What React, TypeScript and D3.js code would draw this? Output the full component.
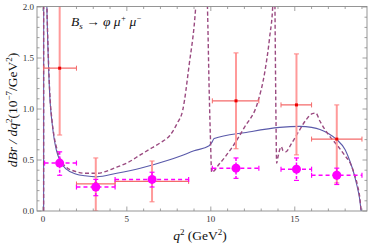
import React from "react";
import * as d3 from "d3";

// ---- data ----
const xTicksMajor = [0, 5, 10, 15];
const yTicksMajor = [0, 0.5, 1.0, 1.5, 2.0];

// SM-like prediction (solid)
const solidCurve: [number, number][] = [
  [0.045, 0], [0.05, 3.0], [0.2, 2.35], [0.25, 1.9], [0.3, 1.6], [0.42, 1.1], [0.55, 0.86],
  [0.67, 0.71], [0.8, 0.6], [1.0, 0.5], [1.4, 0.41], [2.0, 0.36], [2.5, 0.345], [3.2, 0.335],
  [4.4, 0.37], [5.8, 0.42], [7.5, 0.5], [8.2, 0.54], [9.0, 0.59], [9.9, 0.64], [10.05, 0.67],
  [10.2, 0.71], [12.1, 0.77], [14.1, 0.82], [15.3, 0.83], [16.0, 0.82], [16.5, 0.8],
  [17.0, 0.76], [17.5, 0.7], [18.0, 0.6], [18.3, 0.48], [18.5, 0.38], [18.7, 0.25],
  [18.85, 0.13], [18.95, 0],
];

// prediction with charmonium resonances (dashed), three pieces
const dashedCurveA: [number, number][] = [
  [0.045, 0], [0.05, 3.0], [0.2, 2.4], [0.25, 1.95], [0.3, 1.65], [0.42, 1.13], [0.55, 0.88],
  [0.67, 0.73], [0.8, 0.63], [1.0, 0.52], [1.4, 0.43], [2.0, 0.385], [2.5, 0.37], [3.2, 0.37],
  [4.4, 0.43], [5.0, 0.47], [5.8, 0.55], [6.5, 0.62], [7.0, 0.67], [7.56, 0.74], [8.0, 0.86],
  [8.33, 0.99], [8.7, 1.42], [9.1, 2.0], [9.25, 2.4],
];
const dashedCurveB: [number, number][] = [
  [9.72, 2.4], [9.8, 2.0], [9.9, 1.2], [9.98, 0.7], [10.05, 0.38], [10.5, 0.46], [11.25, 0.62],
  [12.0, 0.82], [12.8, 1.07], [13.2, 1.35], [13.5, 1.7], [13.7, 2.05], [13.75, 2.4],
];
const dashedCurveC: [number, number][] = [
  [13.8, 2.4], [13.84, 1.6], [13.88, 0.9], [13.92, 0.47], [14.0, 0.53], [14.1, 0.6],
  [14.2, 0.63], [14.3, 0.59], [14.45, 0.58], [14.8, 0.66], [15.2, 0.77], [15.7, 0.9],
  [16.05, 0.955], [16.25, 0.96], [16.5, 0.88], [17.0, 0.75], [17.5, 0.65], [18.0, 0.54],
  [18.3, 0.47], [18.55, 0.36], [18.75, 0.24], [18.88, 0.12], [18.95, 0],
];

// experimental points (red)
const redQ = [1.0, 3.15, 6.5, 11.5, 15.1, 17.5];
const redLo = [0.05, 2.0, 4.3, 10.09, 14.18, 16.0];
const redHi = [2.0, 4.3, 8.68, 12.86, 16.0, 19.0];
const redVal = [1.4, 0.265, 0.29, 1.08, 1.04, 0.705];
const redErrUp = [0.655, 0.255, 0.2, 0.47, 0.5, 0.335];
const redErrDn = [0.655, 0.265, 0.2, 0.47, 0.49, 0.43];

// experimental points (magenta)
const magQ = [1.0, 3.15, 6.5, 11.5, 15.1, 17.5];
const magLo = [0.1, 2.0, 4.3, 10.09, 14.18, 16.0];
const magHi = [2.0, 4.3, 8.68, 12.86, 16.0, 19.0];
const magVal = [0.47, 0.235, 0.31, 0.42, 0.41, 0.35];
const magErrUp = [0.11, 0.075, 0.07, 0.1, 0.11, 0.07];
const magErrDn = [0.12, 0.085, 0.075, 0.1, 0.11, 0.09];

const W = 371, H = 245;
const L = 37, R = 367, T = 6.5, B = 211;

export default function App() {
  const x = d3.scaleLinear().domain([-0.35, 19.3]).range([L, R]);
  const y = d3.scaleLinear().domain([0, 2.0]).range([B, 7]);
  const line = d3
    .line<[number, number]>()
    .x((d) => x(d[0]))
    .y((d) => y(d[1]))
    .curve(d3.curveMonotoneX);

  const xMinor = d3.range(0, 20, 1).filter((v) => !xTicksMajor.includes(v));
  const yMinor = d3.range(0, 2.001, 0.1).map((v) => +v.toFixed(1)).filter((v) => !yTicksMajor.some((m) => Math.abs(m - v) < 1e-6));

  const frameColor = "#8a8a8a";
  const serif = "'Liberation Serif', 'Times New Roman', 'DejaVu Serif', serif";
  const blue = "#5a5aaa";
  const purple = "#9a4a80";
  const magenta = "#ff00ff";

  return (
    <svg width={W} height={H} style={{ position: "absolute", left: 0, top: 0, fontFamily: serif }}>
      <rect x={0} y={0} width={W} height={H} fill="#fff" />
      <defs>
        <clipPath id="plotclip">
          <rect x={L} y={T} width={R - L} height={B - T} />
        </clipPath>
      </defs>

      {/* ticks */}
      <g stroke={frameColor} strokeWidth={0.8}>
        {xTicksMajor.map((v) => (
          <g key={"xm" + v}>
            <line x1={x(v)} x2={x(v)} y1={B} y2={B - 4.5} />
            <line x1={x(v)} x2={x(v)} y1={T} y2={T + 4.5} />
          </g>
        ))}
        {xMinor.map((v) => (
          <g key={"xn" + v}>
            <line x1={x(v)} x2={x(v)} y1={B} y2={B - 2.5} />
            <line x1={x(v)} x2={x(v)} y1={T} y2={T + 2.5} />
          </g>
        ))}
        {yTicksMajor.map((v) => (
          <g key={"ym" + v}>
            <line x1={L} x2={L + 4.5} y1={y(v)} y2={y(v)} />
            <line x1={R} x2={R - 4.5} y1={y(v)} y2={y(v)} />
          </g>
        ))}
        {yMinor.map((v) => (
          <g key={"yn" + v}>
            <line x1={L} x2={L + 2.5} y1={y(v)} y2={y(v)} />
            <line x1={R} x2={R - 2.5} y1={y(v)} y2={y(v)} />
          </g>
        ))}
      </g>

      {/* tick labels */}
      <g style={{ fontFamily: serif }} fontSize={9} fill="#333">
        {xTicksMajor.map((v) => (
          <text key={"xl" + v} x={x(v)} y={B + 11} textAnchor="middle">{v}</text>
        ))}
        {yTicksMajor.map((v) => (
          <text key={"yl" + v} x={L - 3} y={y(v) + 3} textAnchor="end">{v.toFixed(1)}</text>
        ))}
      </g>

      {/* curves */}
      <g clipPath="url(#plotclip)" fill="none">
        <path d={line(solidCurve) || ""} stroke={blue} strokeWidth={1.1} />
        {[dashedCurveA, dashedCurveB, dashedCurveC].map((c, i) => (
          <path key={"dc" + i} d={line(c) || ""} stroke={purple} strokeWidth={1.4} strokeDasharray="4,2.5" />
        ))}
      </g>

      {/* red data */}
      <g clipPath="url(#plotclip)">
        {redQ.map((q, i) => (
          <g key={"r" + i}>
            <line x1={x(q)} x2={x(q)} y1={y(redVal[i] + redErrUp[i])} y2={y(redVal[i] - redErrDn[i])} stroke="#ff9a9a" strokeWidth={2} />
            <line x1={x(q) - 2.5} x2={x(q) + 2.5} y1={y(redVal[i] + redErrUp[i])} y2={y(redVal[i] + redErrUp[i])} stroke="#ff8080" strokeWidth={1} />
            <line x1={x(q) - 2.5} x2={x(q) + 2.5} y1={y(redVal[i] - redErrDn[i])} y2={y(redVal[i] - redErrDn[i])} stroke="#ff8080" strokeWidth={1} />
            <line x1={x(redLo[i])} x2={x(redHi[i])} y1={y(redVal[i])} y2={y(redVal[i])} stroke="#f46a6a" strokeWidth={1.3} />
            <line x1={x(redLo[i])} x2={x(redLo[i])} y1={y(redVal[i]) - 2.5} y2={y(redVal[i]) + 2.5} stroke="#f46a6a" strokeWidth={1} />
            <line x1={x(redHi[i])} x2={x(redHi[i])} y1={y(redVal[i]) - 2.5} y2={y(redVal[i]) + 2.5} stroke="#f46a6a" strokeWidth={1} />
            <rect x={x(q) - 1.5} y={y(redVal[i]) - 1.5} width={3} height={3} fill="#ee0000" />
          </g>
        ))}
      </g>

      {/* magenta data */}
      <g>
        {magQ.map((q, i) => (
          <g key={"m" + i} stroke={magenta}>
            <line x1={x(magLo[i])} x2={x(magHi[i])} y1={y(magVal[i])} y2={y(magVal[i])} strokeWidth={1.5} strokeDasharray="4,3" />
            <line x1={x(magLo[i])} x2={x(magLo[i])} y1={y(magVal[i]) - 2.5} y2={y(magVal[i]) + 2.5} strokeWidth={1.2} />
            <line x1={x(magHi[i])} x2={x(magHi[i])} y1={y(magVal[i]) - 2.5} y2={y(magVal[i]) + 2.5} strokeWidth={1.2} />
            <line x1={x(q)} x2={x(q)} y1={y(magVal[i] + magErrUp[i])} y2={y(magVal[i] - magErrDn[i])} strokeWidth={1.5} strokeDasharray="3,1.5" />
            <line x1={x(q) - 2.5} x2={x(q) + 2.5} y1={y(magVal[i] + magErrUp[i])} y2={y(magVal[i] + magErrUp[i])} strokeWidth={1.2} />
            <line x1={x(q) - 2.5} x2={x(q) + 2.5} y1={y(magVal[i] - magErrDn[i])} y2={y(magVal[i] - magErrDn[i])} strokeWidth={1.2} />
            <circle cx={x(q)} cy={y(magVal[i])} r={4.5} fill={magenta} stroke="none" />
          </g>
        ))}
      </g>

      {/* frame */}
      <rect x={L} y={T} width={R - L} height={B - T} fill="none" stroke={frameColor} strokeWidth={0.9} />

      {/* title */}
      <text x={71} y={26} fontSize={13.5} fontStyle="italic" fill="#111" style={{ fontFamily: serif }}>
        B<tspan fontSize={9} dy={3}>s</tspan>
        <tspan dy={-3}> → φ μ</tspan>
        <tspan fontSize={8} dy={-5}>+</tspan>
        <tspan dy={5}> μ</tspan>
        <tspan fontSize={8} dy={-5}>−</tspan>
      </text>

      {/* axis labels */}
      <text x={200} y={240} fontSize={13.5} textAnchor="middle" fill="#111" style={{ fontFamily: serif }}>
        <tspan fontStyle="italic">q</tspan>
        <tspan fontSize={9} dy={-5}>2</tspan>
        <tspan dy={5}>{"  (GeV"}</tspan>
        <tspan fontSize={9} dy={-5}>2</tspan>
        <tspan dy={5}>)</tspan>
      </text>
      <text transform={`translate(17,110) rotate(-90)`} fontSize={13.5} textAnchor="middle" fill="#111" style={{ fontFamily: serif }}>
        <tspan fontStyle="italic">dBr / dq</tspan>
        <tspan fontSize={9} dy={-5}>2</tspan>
        <tspan dy={5}>(10</tspan>
        <tspan fontSize={9} dy={-5}>−7</tspan>
        <tspan dy={5}>/GeV</tspan>
        <tspan fontSize={9} dy={-5}>2</tspan>
        <tspan dy={5}>)</tspan>
      </text>
    </svg>
  );
}
